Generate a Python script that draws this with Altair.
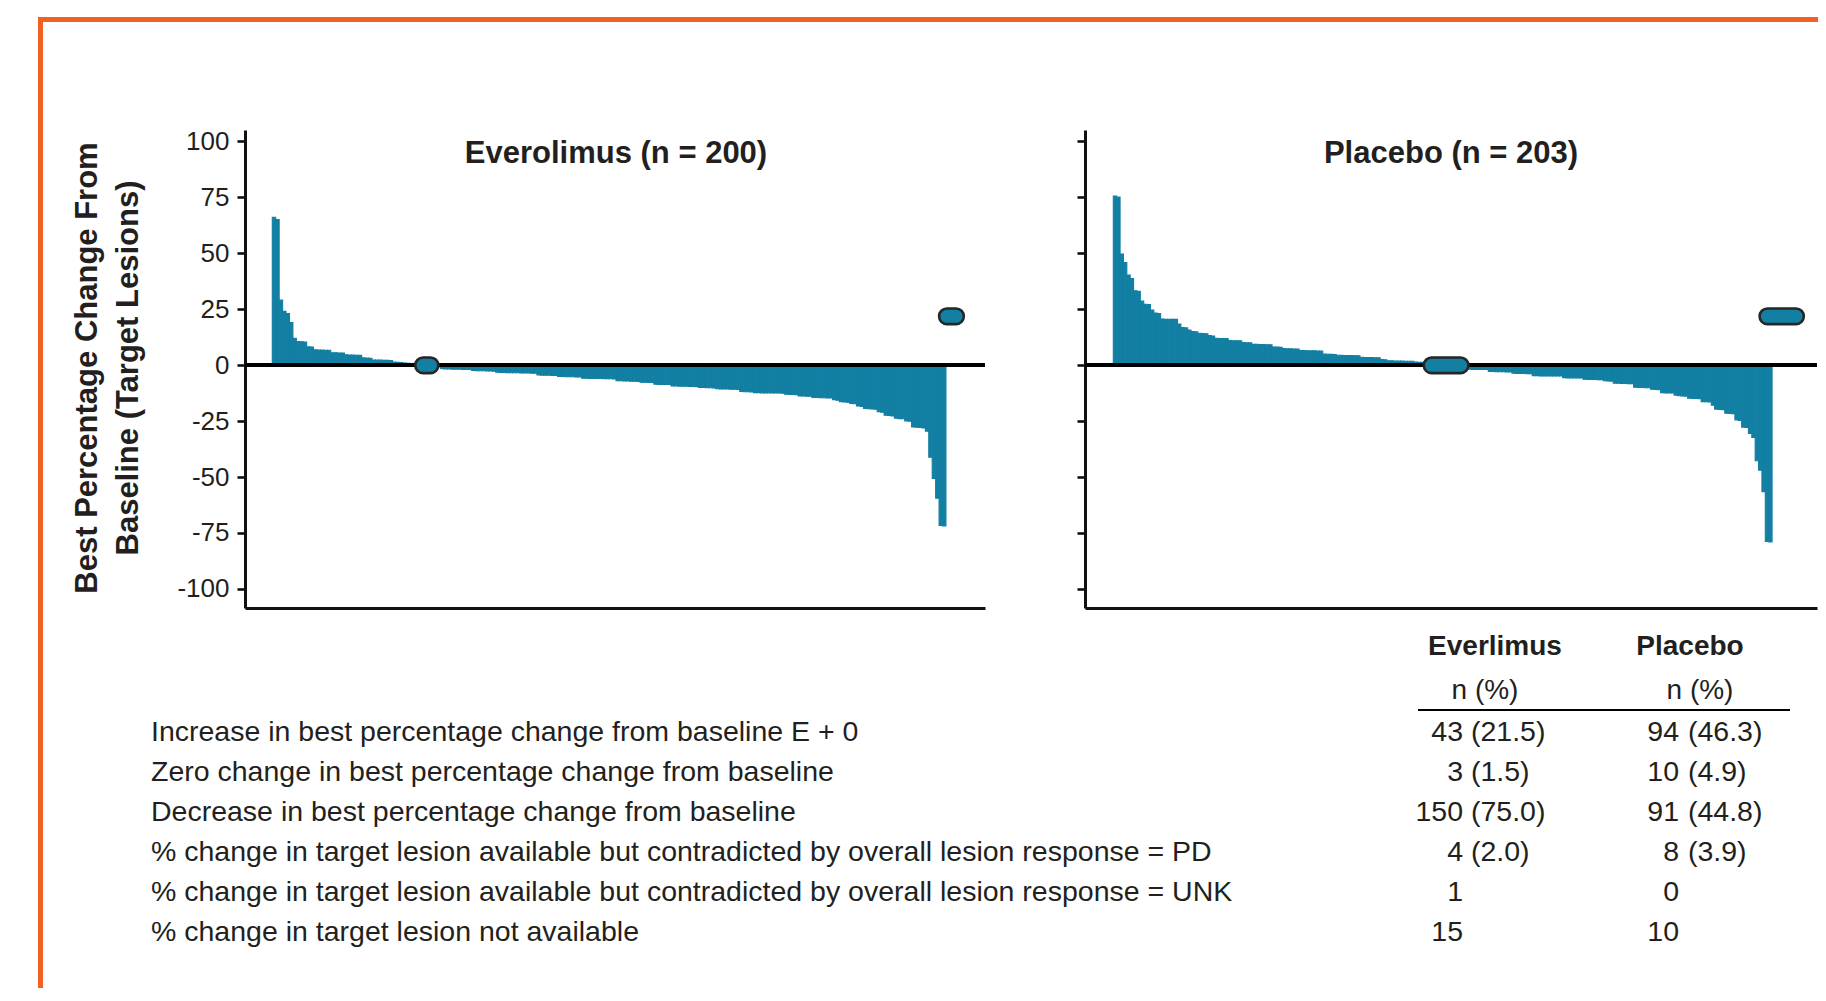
import altair as alt
import pandas as pd

# ---------------- data ----------------
EVE_VALUES = [
    66, 65, 29, 24, 23, 19, 12, 10.5, 10.4, 10.3, 8.2, 8.1,
    6.8, 6.7, 6.7, 6.6, 6.6, 5.5, 5.5, 5.4, 5.4,
    4.6, 4.5, 4.5, 4.4, 4.4, 3.2, 3.1, 3.0,
    2.3, 2.2, 2.2, 2.1, 2.1, 2.0, 1.3, 1.2, 1.1,
    0.9, 0.8, 0.7, 0.5, 0.3,
    0, 0, 0,
    -0.4, -0.6, -0.8,
    -1.6, -1.7, -1.7, -1.8, -1.8, -1.8, -1.9, -1.9, -2.0,
    -2.4, -2.5, -2.5, -2.5, -2.6, -2.6, -2.7,
    -3.2, -3.3, -3.3, -3.4, -3.4, -3.4, -3.4, -3.5, -3.5, -3.5, -3.6, -3.6,
    -4.4, -4.5, -4.5, -4.5, -4.6, -4.6,
    -5.1, -5.1, -5.2, -5.2, -5.2, -5.3, -5.3,
    -5.9, -5.9, -6.0, -6.0, -6.0, -6.0, -6.1, -6.1, -6.1, -6.2,
    -7.0, -7.0, -7.1, -7.1, -7.2, -7.2, -7.3,
    -7.7, -7.7, -7.8, -7.8,
    -8.5, -8.6, -8.6, -8.7, -8.7,
    -9.3, -9.3, -9.4, -9.4, -9.4, -9.5, -9.5, -9.6,
    -10.0, -10.0, -10.1, -10.1, -10.2,
    -10.6, -10.7, -10.7, -10.7, -10.8, -10.8, -10.9,
    -11.8, -11.9, -11.9, -12.0,
    -12.3, -12.3, -12.4, -12.4, -12.4, -12.5, -12.5, -12.5, -12.6,
    -13.0, -13.1, -13.1, -13.2,
    -13.8, -13.8, -13.9, -13.9,
    -14.5, -14.5, -14.6, -14.6, -14.7, -14.7,
    -15.5, -15.7, -16.3, -16.5, -16.6, -17.1, -17.3, -18.3, -18.5,
    -19.4, -19.5, -19.6, -19.7, -20.8, -21.0,
    -22.4, -22.5, -22.7, -23.7, -23.9, -24.0, -24.9, -25.1,
    -27.6, -27.8, -27.9, -28.1, -29.5,
    -41.2, -50.6, -59.5, -71.6, -71.8,
]

PLA_VALUES = [
    75.5, 75.0, 49.6, 45.8, 40.2, 38.7, 33.2, 33.0, 28.6, 27.2, 27.0, 24.6,
    23.2, 23.0, 20.6, 20.5, 20.5, 20.4, 20.4, 18.3, 16.8, 16.6, 15.6,
    15.0, 14.9, 14.2, 14.1, 14.0, 13.2, 13.0,
    12.0, 11.9, 11.9, 11.8, 11.0, 10.9, 10.9, 10.8, 10.1, 10.0, 9.9,
    9.3, 9.3, 9.2, 9.2, 9.1, 9.1, 8.1, 8.0, 7.9,
    7.4, 7.3, 7.3, 7.2, 7.2, 6.5, 6.5, 6.4, 6.4, 6.4, 6.3, 6.3,
    4.9, 4.8, 4.8, 4.7, 4.4, 4.4, 4.3, 4.3, 4.3, 4.2, 4.2,
    3.5, 3.4, 3.4, 3.4, 3.3, 3.3, 2.5, 2.4,
    1.9, 1.9, 1.8, 1.8, 1.8, 1.7, 1.7, 1.7, 1.3, 1.2, 1.2, 1.1, 0.8,
    0, 0, 0, 0, 0, 0, 0, 0, 0, 0,
    -0.8,
    -1.8, -1.9, -1.9, -1.9, -2.0, -2.0,
    -2.9, -2.9, -3.0, -3.0, -3.0, -3.1, -3.1,
    -3.6, -3.7, -3.7, -3.7, -3.8, -3.8,
    -4.7, -4.7, -4.8, -4.8, -4.8, -4.8, -4.9, -4.9, -4.9,
    -5.6, -5.7, -5.7, -5.7, -5.8, -5.8,
    -6.3, -6.4, -6.4, -6.4, -6.5, -6.5,
    -7.0, -7.1, -7.2,
    -8.1, -8.1, -8.2, -8.2, -8.3, -8.3,
    -9.9, -10.0, -10.0, -10.1, -10.1,
    -10.8, -10.9, -11.0,
    -12.3, -12.4, -12.4, -12.5, -13.4, -13.7, -13.8, -13.9,
    -14.8, -14.9, -14.9, -15.0, -16.3, -16.4, -16.5, -17.9,
    -19.7, -19.8, -19.9, -21.5, -21.6, -21.7, -24.5, -24.7,
    -27.7, -27.9, -30.5, -32.3, -42.7, -46.9, -56.5, -78.8, -79.0,
]

# pill markers (zero change / contradicted by PD), in bar-index and % units
EVE_PILL_X0 = [41.6, 194.0]
EVE_PILL_X1 = [48.3, 201.2]
PLA_PILL_X0 = [91.9, 191.3]
PLA_PILL_X1 = [105.1, 204.4]
PILL_Y0 = [-3.6, 18.3]
PILL_Y1 = [3.4, 25.3]

Y_TICKS = [-100, -75, -50, -25, 0, 25, 50, 75, 100]

PANEL_TITLES = ["Everolimus (n = 200)", "Placebo (n = 203)"]
Y_TITLE = ["Best Percentage Change From", "Baseline (Target Lesions)"]

ROW_LABELS = [
    "Increase in best percentage change from baseline E + 0",
    "Zero change in best percentage change from baseline",
    "Decrease in best percentage change from baseline",
    "% change in target lesion available but contradicted by overall lesion response = PD",
    "% change in target lesion available but contradicted by overall lesion response = UNK",
    "% change in target lesion not available",
]
EVE_N = ["43", "3", "150", "4", "1", "15"]
EVE_PCT = ["(21.5)", "(1.5)", "(75.0)", "(2.0)", "", ""]
PLA_N = ["94", "10", "91", "8", "0", "10"]
PLA_PCT = ["(46.3)", "(4.9)", "(44.8)", "(3.9)", "", ""]
TABLE_HEADERS = ["Everlimus", "Placebo"]
TABLE_SUB = "n (%)"

# ---------------- styling ----------------
FONT = "Liberation Sans, Arial, Helvetica, sans-serif"
BLUE = "#127FA3"
INK = "#231f20"
ORANGE = "#F26024"
W, H = 1810, 980

sy = alt.Scale(domain=[-108.5, 105], range=[600, 122], nice=False, zero=False)
sx_e = alt.Scale(domain=[-7.94, 207.36], range=[237, 977], nice=False, zero=False)
sx_p = alt.Scale(domain=[-8.38, 208.3], range=[1077, 1809], nice=False, zero=False)

def y_axis(offset, labels):
    return alt.Axis(
        orient="left", offset=offset, values=Y_TICKS, title=None, grid=False,
        labels=labels, labelFont=FONT, labelFontSize=26, labelColor=INK,
        labelExpr="replace(datum.label, '\u2212', '-')",
        labelPadding=8, tickSize=8, tickWidth=2.6, tickColor="#111",
        domainColor="#111", domainWidth=3,
    )

def x_axis():
    return alt.Axis(
        orient="bottom", offset=600 - H, title=None, grid=False, labels=False,
        ticks=False, domainColor="#111", domainWidth=3,
    )

df_e = pd.DataFrame({"i": list(range(len(EVE_VALUES))), "v": EVE_VALUES})
df_p = pd.DataFrame({"i": list(range(len(PLA_VALUES))), "v": PLA_VALUES})

bars_e = alt.Chart(df_e).transform_calculate(i2="datum.i + 1").mark_rect(
    color=BLUE, stroke=BLUE, strokeWidth=1.1
).encode(
    x=alt.X("i:Q", scale=sx_e, axis=x_axis()),
    x2="i2:Q",
    y=alt.Y("v:Q", scale=sy, axis=y_axis(-237, True)),
    y2=alt.datum(0),
)
bars_p = alt.Chart(df_p).transform_calculate(i2="datum.i + 1").mark_rect(
    color=BLUE, stroke=BLUE, strokeWidth=1.1
).encode(
    x=alt.X("i:Q", scale=sx_p, axis=x_axis()),
    x2="i2:Q",
    y=alt.Y("v:Q", scale=sy, axis=y_axis(-1077, False)),
    y2=alt.datum(0),
)

zero_e = alt.Chart(df_e).mark_rule(color="#000", strokeWidth=3).encode(
    y=alt.Y(datum=0, scale=sy, axis=None), x=alt.value(237), x2=alt.value(977)
)
zero_p = alt.Chart(df_p).mark_rule(color="#000", strokeWidth=3).encode(
    y=alt.Y(datum=0, scale=sy, axis=None), x=alt.value(1077), x2=alt.value(1809)
)

pill_e_df = pd.DataFrame({"x0": EVE_PILL_X0, "x1": EVE_PILL_X1, "y0": PILL_Y0, "y1": PILL_Y1})
pill_p_df = pd.DataFrame({"x0": PLA_PILL_X0, "x1": PLA_PILL_X1, "y0": PILL_Y0, "y1": PILL_Y1})
pill_style = dict(fill=BLUE, stroke="#262626", strokeWidth=2.6, cornerRadius=7.8)
pills_e = alt.Chart(pill_e_df).mark_rect(**pill_style).encode(
    x=alt.X("x0:Q", scale=sx_e, axis=None), x2="x1:Q",
    y=alt.Y("y0:Q", scale=sy, axis=None), y2="y1:Q",
)
pills_p = alt.Chart(pill_p_df).mark_rect(**pill_style).encode(
    x=alt.X("x0:Q", scale=sx_p, axis=None), x2="x1:Q",
    y=alt.Y("y0:Q", scale=sy, axis=None), y2="y1:Q",
)

def text(t, x, y, size=28.5, weight="normal", align="left", baseline="middle", angle=None, lh=None):
    kw = dict(font=FONT, fontSize=size, fontWeight=weight, color=INK, align=align, baseline=baseline)
    if angle is not None:
        kw["angle"] = angle
    if lh is not None:
        kw["lineHeight"] = lh
    return alt.Chart(df_e).mark_text(**kw).encode(
        x=alt.value(x), y=alt.value(y), text=alt.value(t)
    ).transform_filter("datum.i == 0")

title_e = text(PANEL_TITLES[0], 608, 155, size=31, weight="bold", align="center", baseline="alphabetic")
title_p = text(PANEL_TITLES[1], 1443, 155, size=31, weight="bold", align="center", baseline="alphabetic")
ytitle = text(Y_TITLE, 80, 360, size=31, weight="bold", align="center", angle=270, lh=41)

hdr_e = text(TABLE_HEADERS[0], 1487, 639, size=28, weight="bold", align="center")
hdr_p = text(TABLE_HEADERS[1], 1682, 639, size=28, weight="bold", align="center")
sub_e = text(TABLE_SUB, 1477, 683, size=28, align="center")
sub_p = text(TABLE_SUB, 1692, 683, size=28, align="center")

underline = alt.Chart(df_e).transform_filter("datum.i == 0").mark_rule(
    color="#000", strokeWidth=2.2
).encode(x=alt.value(1410), x2=alt.value(1782), y=alt.value(702))

tbl = pd.DataFrame({
    "row": list(range(len(ROW_LABELS))), "label": ROW_LABELS,
    "en": EVE_N, "ep": EVE_PCT, "pn": PLA_N, "pp": PLA_PCT,
})
srow = alt.Scale(domain=[0, 5], range=[724, 924], nice=False, zero=False)
tbase = alt.Chart(tbl)
tstyle = dict(font=FONT, fontSize=28.5, color=INK, baseline="middle")
t_label = tbase.mark_text(align="left", **tstyle).encode(
    y=alt.Y("row:Q", scale=srow, axis=None), x=alt.value(143), text="label:N")
t_en = tbase.mark_text(align="right", **tstyle).encode(
    y=alt.Y("row:Q", scale=srow, axis=None), x=alt.value(1455), text="en:N")
t_ep = tbase.mark_text(align="left", **tstyle).encode(
    y=alt.Y("row:Q", scale=srow, axis=None), x=alt.value(1463), text="ep:N")
t_pn = tbase.mark_text(align="right", **tstyle).encode(
    y=alt.Y("row:Q", scale=srow, axis=None), x=alt.value(1671), text="pn:N")
t_pp = tbase.mark_text(align="left", **tstyle).encode(
    y=alt.Y("row:Q", scale=srow, axis=None), x=alt.value(1680), text="pp:N")

frame_top = alt.Chart(df_e).transform_filter("datum.i == 0").mark_rule(
    color=ORANGE, strokeWidth=5).encode(x=alt.value(30), x2=alt.value(W), y=alt.value(11.5))
frame_left = alt.Chart(df_e).transform_filter("datum.i == 0").mark_rule(
    color=ORANGE, strokeWidth=5).encode(x=alt.value(32.5), y=alt.value(9), y2=alt.value(H))

chart = alt.layer(
    frame_top, frame_left,
    bars_e, bars_p, zero_e, zero_p, pills_e, pills_p,
    title_e, title_p, ytitle,
    hdr_e, hdr_p, sub_e, sub_p, underline,
    t_label, t_en, t_ep, t_pn, t_pp,
).resolve_scale(
    x="independent", y="independent"
).resolve_axis(
    x="independent", y="independent"
).properties(
    width=W, height=H, padding=0,
    autosize=alt.AutoSizeParams(type="none"),
    view=alt.ViewBackground(stroke="transparent", strokeWidth=0),
).configure_view(strokeWidth=0, stroke="transparent").configure(background="white")

chart.save("out.html", embed_options={"renderer": "svg", "actions": False})
